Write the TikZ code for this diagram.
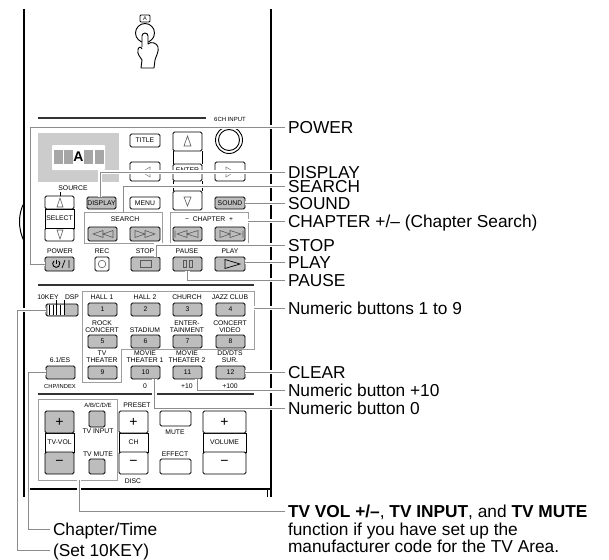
\documentclass[tikz,border=0pt]{standalone}
\usepackage{fontspec}
\setmainfont{Liberation Sans}
\definecolor{bfill}{gray}{0.74}
\definecolor{boxc}{gray}{0.62}
\definecolor{leadc}{gray}{0.55}
\definecolor{iconc}{gray}{0.35}
\newcommand{\btn}[6][]{%
  \pgfmathsetmacro{\cxx}{(#3+#5)/2}\pgfmathsetmacro{\cyy}{(#4+#6)/2}%
  \pgfmathsetmacro{\wxx}{#5-#3}\pgfmathsetmacro{\hyy}{#6-#4}%
  \node[btnbox,#1,minimum width=\wxx pt,minimum height=\hyy pt] (#2) at (\cxx,\cyy) {\btnlabel};}
\newcommand{\btnlabel}{}
\newcommand{\tb}[7][]{\renewcommand{\btnlabel}{#7}\btn[#1]{#2}{#3}{#4}{#5}{#6}}
\newcommand{\tl}[3]{\node[smalltext] at (#1,#2) {#3};}
\tikzset{
  btnbox/.style={draw=black,fill=white,line width=0.9pt,rounded corners=1.5pt,inner sep=0pt,outer sep=0pt,font=\fontsize{6.8}{7}\selectfont},
  grayb/.style={fill=bfill},
  flat/.style={rounded corners=0pt},
  smalltext/.style={inner sep=0pt,align=center,font=\fontsize{6.8}{7.2}\selectfont},
  groupbox/.style={draw=boxc,line width=1pt,inner sep=0pt,outer sep=0pt},
  rail/.style={draw=black,line width=2pt},
  sep/.style={draw=black!80,line width=1.1pt},
  leader/.style={draw=leadc,line width=1pt,preaction={draw=white,line width=4.5pt}},
  lbl/.style={anchor=west,inner sep=0pt,outer sep=3pt,text height=12.4pt,text depth=0pt,font=\fontsize{17.3}{19}\selectfont},
  icon/.style={draw=iconc,line width=0.6pt},
}
\begin{document}
\begin{tikzpicture}[x=1pt,y=-1pt]
\useasboundingbox (0,0) rectangle (609,559);
% body
\draw[rail] (24,9) -- (24,497);
\draw[rail] (271,9) -- (271,497);
\draw[rail] (30,489) -- (271,489);
\draw[black,line width=1pt] (267,489) -- (267,497);
\draw[black,line width=1pt] (24,203) .. controls (18,214) and (18,229) .. (24,241);
% hand
\node[draw=black,rounded corners=1pt,line width=0.8pt,minimum width=10pt,minimum height=7pt,inner sep=0pt,font=\fontsize{5.5}{6}\selectfont] (akey) at (145,18.5) {A};
\draw[black,line width=0.9pt] (145,33) circle (9.5);
\draw[black,line width=0.9pt,fill=white,line join=round] (142,47) -- (142,36) arc[start angle=180,end angle=360,x radius=3,y radius=3] -- (148,44)
  .. controls (151,41) and (157,43) .. (158,47) .. controls (159,52) and (156,56) .. (155,60) -- (154,68) -- (141,68) -- (142,60)
  .. controls (140,57) and (137,54) .. (138,50) .. controls (138,47) and (141,46) .. (142,49);
% separators
\draw[sep] (38,118) -- (206,118);
\draw[sep] (38,285) -- (254,285);
\draw[sep] (38,394) -- (254,394);
\node[smalltext] (six) at (230,119) {\fontsize{6}{7}\selectfont 6CH INPUT};
\node[draw=black,circle,line width=0.9pt,minimum size=27pt,inner sep=0pt] (dial) at (229,140) {};
\node[draw=black,circle,line width=0.9pt,minimum size=21pt,inner sep=0pt] (dialin) at (229,140) {};
% display panel
\fill[black!20] (38,133) rectangle (119,182);
\fill[white,rounded corners=1pt] (52,145) rectangle (105,170);
\foreach \x in {54,64,84,95} \fill[black!35] (\x,150) rectangle (\x+9,164);
\node[inner sep=0pt,font=\bfseries\fontsize{14}{14}\selectfont] (segA) at (78.5,157) {A};
% d-pad
\tb{title}{130}{134}{160}{147}{TITLE}
\tb{dup}{173}{132}{202}{151}{}
\tb{dleft}{130}{162}{160}{181}{}
\tb{dright}{215}{162}{245}{181}{}
\tb{denter}{173}{164}{202}{181}{}
\node[smalltext] (entertxt) at (187.5,170) {ENTER};
\tb{ddown}{173}{191}{202}{210}{}
\draw[black,line width=0.9pt] (dup.south west) -- (denter.north west) (dup.south east) -- (denter.north east);
\draw[black,line width=0.9pt] (denter.south west) -- (ddown.north west) (denter.south east) -- (ddown.north east);
\draw[black,line width=0.9pt] (dleft.east) -- (denter.west) (dright.west) -- (denter.east);
\draw[icon] (184,146) -- (187.5,136) -- (191,146) -- cycle;
\draw[icon] (184,197) -- (187.5,206) -- (191,197) -- cycle;
\draw[draw=black!45,line width=0.6pt] (150,167) -- (142,172) -- (150,177) -- cycle;
\draw[draw=black!45,line width=0.6pt] (226,167) -- (234,172) -- (226,177) -- cycle;
% source
\tl{73}{188}{SOURCE}
\draw[black,line width=0.7pt] (60,192) -- (60,196);
\tb{srcup}{45}{196}{74}{209}{}
\tb{srcdn}{45}{228}{74}{241}{}
\tb[flat]{srcsel}{45}{209}{74}{228}{SELECT}
\draw[icon] (57,207) -- (60,198) -- (63,207) -- cycle;
\draw[icon] (57,230) -- (60,239) -- (63,230) -- cycle;
\tb[grayb]{bdisplay}{87}{197}{116}{209}{DISPLAY}
\tb{bmenu}{130}{197}{160}{209}{MENU}
\tb[grayb]{bsound}{215}{197}{245}{209}{SOUND}
% search / chapter
\node[groupbox,minimum width=78pt,minimum height=31pt] (searchbox) at (123.5,227.5) {};
\node[groupbox,minimum width=78pt,minimum height=31pt] (chapbox) at (209,227.5) {};
\tl{125}{219}{SEARCH}
\tl{209}{219}{\textminus\ \ CHAPTER\ \ +}
\tb[grayb]{srew}{88}{227}{117}{241}{}
\tb[grayb]{sfwd}{130}{227}{160}{241}{}
\tb[grayb]{crew}{173}{227}{202}{241}{}
\tb[grayb]{cfwd}{215}{227}{245}{241}{}
\draw[icon] (103,230.5) -- (93,234) -- (103,237.5) -- cycle (113,230.5) -- (103,234) -- (113,237.5) -- cycle;
\draw[icon] (135,230.5) -- (145,234) -- (135,237.5) -- cycle (145,230.5) -- (155,234) -- (145,237.5) -- cycle;
\draw[icon] (175,230.5) -- (175,237.5) (187,230.5) -- (177,234) -- (187,237.5) -- cycle (198,230.5) -- (187,234) -- (198,237.5) -- cycle;
\draw[icon] (220,230.5) -- (230,234) -- (220,237.5) -- cycle (230,230.5) -- (241,234) -- (230,237.5) -- cycle (243,230.5) -- (243,237.5);
% transport
\tl{60}{251}{POWER}\tl{102}{251}{REC}\tl{145}{251}{STOP}\tl{187}{251}{PAUSE}\tl{230}{251}{PLAY}
\tb[grayb]{bpower}{45}{257}{74}{271}{}
\draw[black,line width=0.9pt] (54,261) arc[start angle=-50,end angle=230,radius=3.6,x radius=-3.6] ;
\draw[black,line width=0.9pt] (56.5,259.5) -- (56.5,264);
\draw[black,line width=0.7pt] (62,268) -- (65,260) (69,260) -- (69,268);
\tb{brec}{95}{257}{109}{271}{}
\draw[icon] (brec.center) circle (3.8);
\tb[grayb]{bstop}{131}{257}{160}{271}{}
\draw[icon] (140,260.5) rectangle (151,267.5);
\tb[grayb]{bpause}{173}{257}{202}{271}{}
\draw[icon] (183,260.5) rectangle (186,267.5) (189,260.5) rectangle (192,267.5);
\tb[grayb]{bplay}{215}{257}{245}{271}{}
\draw[black,line width=0.7pt] (225,259.5) -- (240,264) -- (225,268.5) -- cycle;
% numeric group
\draw[groupbox] (82,291) -- (254,291) -- (254,349) -- (121,349) -- (121,382) -- (82,382) -- cycle;
\coordinate (numr) at (254,308);
\tl{102}{297}{HALL 1}\tl{145}{297}{HALL 2}\tl{187}{297}{CHURCH}\tl{230}{297}{JAZZ CLUB}
\tl{102}{326.5}{ROCK\\CONCERT}\tl{145}{330}{STADIUM}\tl{187}{326.5}{ENTER-\\TAINMENT}\tl{230}{326.5}{CONCERT\\VIDEO}
\tl{102}{356.5}{TV\\THEATER}\tl{145}{356.5}{MOVIE\\THEATER 1}\tl{187}{356.5}{MOVIE\\THEATER 2}\tl{230}{356.5}{DD/DTS\\SUR.}
\tb[grayb]{b1}{88}{303}{117}{316}{1}
\tb[grayb]{b2}{131}{303}{160}{316}{2}
\tb[grayb]{b3}{173}{303}{202}{316}{3}
\tb[grayb]{b4}{216}{303}{245}{316}{4}
\tb[grayb]{b5}{88}{335}{117}{348}{5}
\tb[grayb]{b6}{131}{335}{160}{348}{6}
\tb[grayb]{b7}{173}{335}{202}{348}{7}
\tb[grayb]{b8}{216}{335}{245}{348}{8}
\tb[grayb]{b9}{88}{366}{117}{379}{9}
\tb[grayb]{b10}{131}{366}{160}{379}{10}
\tb[grayb]{b11}{173}{366}{202}{379}{11}
\tb[grayb]{b12}{216}{366}{245}{379}{12}
\tl{60}{360}{6.1/ES}
\tb[grayb]{bes}{46}{366}{75}{379}{}
\tl{60}{386.5}{\fontsize{5.8}{6}\selectfont CHP/INDEX}
\tl{145}{386.5}{0}\tl{187}{386.5}{+10}\tl{230}{386.5}{+100}
% 10KEY switch
\tl{48}{297}{10KEY}\tl{72}{297}{DSP}
\tb[grayb]{bsw}{46}{304}{78}{316}{}
\fill[white] (48,305) rectangle (64,315);
\draw[black,line width=0.8pt] (49,305) -- (49,315) (53,305) -- (53,315) (56,300) -- (56,315) (60,305) -- (60,315) (64,300) -- (64,315);
% lower section
\node[groupbox,minimum width=79pt,minimum height=81pt] (tvbox) at (77.5,439.5) {};
\tl{98}{405}{\fontsize{6}{7}\selectfont A/B/C/D/E}\tl{137}{405}{PRESET}
\tb[flat]{tvm}{45}{433}{74}{452}{TV-VOL}
\tb[grayb]{tvp}{45}{411}{74}{433}{\fontsize{14}{14}\selectfont +}
\tb[grayb]{tvn}{45}{452}{74}{474}{\fontsize{14}{14}\selectfont\textminus}
\tb[grayb]{tvin}{89}{411}{105}{427}{}
\tl{98}{431}{TV INPUT}\tl{98}{454}{TV MUTE}
\tb[grayb]{tvmu}{89}{459}{105}{474}{}
\tb[flat]{chm}{119}{433}{148}{452}{CH}
\tb{chp}{119}{411}{148}{433}{\fontsize{14}{14}\selectfont +}
\tb{chn}{119}{452}{148}{474}{\fontsize{14}{14}\selectfont\textminus}
\tl{133}{481}{DISC}
\tb{bmute}{160}{411}{191}{426}{}
\tl{175}{432}{MUTE}\tl{175}{454}{EFFECT}
\tb{beff}{160}{459}{191}{474}{}
\tb[flat]{volm}{203}{433}{246}{452}{VOLUME}
\tb{volp}{203}{411}{246}{433}{\fontsize{14}{14}\selectfont +}
\tb{voln}{203}{452}{246}{474}{\fontsize{14}{14}\selectfont\textminus}
% labels
\node[lbl] (lpower) at (285,127) {POWER};
\node[lbl] (ldisplay) at (285,172) {DISPLAY};
\node[lbl] (lsearch) at (285,186) {SEARCH};
\node[lbl] (lsound) at (285,203) {SOUND};
\node[lbl] (lchapter) at (285,221) {CHAPTER +/– (Chapter Search)};
\node[lbl] (lstop) at (285,245) {STOP};
\node[lbl] (lplay) at (285,262) {PLAY};
\node[lbl] (lpause) at (285,280) {PAUSE};
\node[lbl] (lnum) at (285,308) {Numeric buttons 1 to 9};
\node[lbl] (lclear) at (285,372) {CLEAR};
\node[lbl] (lten) at (285,390.5) {Numeric button +10};
\node[lbl] (lzero) at (285,408) {Numeric button 0};
\node[lbl] (ltv) at (285,511) {\textbf{TV VOL +/–}, \textbf{TV INPUT}, and \textbf{TV MUTE}};
\node[lbl] (ltvb) at (285,529) {function if you have set up the};
\node[lbl] (ltvc) at (285,546.5) {manufacturer code for the TV Area.};
\node[lbl] (lctime) at (50,529.5) {Chapter/Time};
\node[lbl] (lset) at (50,550) {(Set 10KEY)};
% leaders
\coordinate (kpower) at (30,264);
\coordinate (kct) at (28,372.5);
\coordinate (kset) at (17,310);
\draw[leader] (lpower.west) -| (kpower) -- (bpower.west);
\draw[leader] (ldisplay.west) -| ([xshift=-1.5pt]bdisplay.north);
\draw[leader] (lsearch.west) -| (searchbox.north);
\draw[leader] (lsound.west) -- (bsound.east);
\draw[leader] (lchapter.west) -- (lchapter.west -| chapbox.east);
\draw[leader] (lstop.west) -| ([xshift=11pt]bstop.north);
\draw[leader] (lplay.west) -- (lplay.west -| bplay.east);
\draw[leader] (lpause.west) -| (bpause.south);
\draw[leader] (lnum.west) -- (numr);
\draw[leader] (lclear.west) -- (lclear.west -| b12.east);
\draw[leader] (lten.west) -| ([xshift=10pt]b11.south);
\draw[leader] (lzero.west) -| ([xshift=9pt]b10.south);
\draw[leader] (ltv.west) -| ([xshift=1.5pt]tvbox.south);
\draw[leader] (lctime.west) -| (kct) -- (bes.west);
\draw[leader] (lset.west) -| (kset) -- (bsw.west);
\end{tikzpicture}
\end{document}
